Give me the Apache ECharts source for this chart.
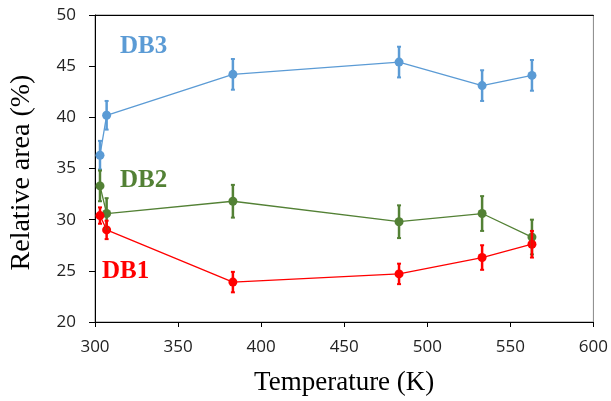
<!DOCTYPE html>
<html><head><meta charset="utf-8">
<script src="https://cdn.jsdelivr.net/npm/echarts@6/dist/echarts.min.js"></script>
<style>html,body{margin:0;padding:0;background:#fff}#c{width:611px;height:401px}</style>
</head><body><div id="c"></div>
<script>
const temps = [303, 307, 383, 483, 533, 563];
const db1 = [30.4, 29.0, 23.9, 24.7, 26.3, 27.6];
const db1Err = [0.8, 0.9, 1.0, 1.0, 1.2, 1.3];
const db2 = [33.3, 30.6, 31.8, 29.8, 30.6, 28.3];
const db2Err = [1.5, 1.5, 1.6, 1.6, 1.7, 1.7];
const db3 = [36.3, 40.2, 44.2, 45.4, 43.1, 44.1];
const db3Err = [1.4, 1.4, 1.5, 1.5, 1.5, 1.5];
const xTicks = [300, 350, 400, 450, 500, 550, 600];
const yTicks = [20, 25, 30, 35, 40, 45, 50];

const colors = {db1: '#FF0000', db2: '#538135', db3: '#5B9BD5'};

function lineSeries(name, vals, color) {
  return {name, type: 'line', data: temps.map((t, i) => [t, vals[i]]),
    symbol: 'circle', symbolSize: 9, itemStyle: {color}, lineStyle: {color, width: 1.3}, z: 3};
}
function errSeries(vals, errs, color) {
  return {type: 'custom', z: 4,
    data: temps.map((t, i) => [t, vals[i] - errs[i], vals[i] + errs[i]]),
    renderItem: function (params, api) {
      const lo = api.coord([api.value(0), api.value(1)]);
      const hi = api.coord([api.value(0), api.value(2)]);
      const w = 2;
      return {type: 'group', children: [
        {type: 'line', shape: {x1: lo[0], y1: lo[1], x2: hi[0], y2: hi[1]}, style: {stroke: color, lineWidth: 2.5}},
        {type: 'line', shape: {x1: lo[0]-w, y1: lo[1], x2: lo[0]+w, y2: lo[1]}, style: {stroke: color, lineWidth: 2}},
        {type: 'line', shape: {x1: hi[0]-w, y1: hi[1], x2: hi[0]+w, y2: hi[1]}, style: {stroke: color, lineWidth: 2}}
      ]};
    }};
}

const chart = echarts.init(document.getElementById('c'), null, {renderer: 'canvas'});
const tickFont = {fontFamily: 'Open Sans', fontSize: 17, color: '#222'};
chart.setOption({
  animation: false,
  grid: {left: 92, right: 17, top: 15, bottom: 78.5, show: true, borderColor: '#888', borderWidth: 1},
  xAxis: [{type: 'value', min: xTicks[0], max: xTicks[xTicks.length-1], interval: 50,
    name: 'Temperature (K)', nameLocation: 'middle', nameGap: 47,
    nameTextStyle: {fontFamily: 'Liberation Serif', fontSize: 27, color: '#000'},
    axisLine: {show: true, lineStyle: {color: '#000', width: 1}},
    axisTick: {show: true, length: 5, lineStyle: {color: '#000'}},
    axisLabel: Object.assign({margin: 17}, tickFont), splitLine: {show: false}},
   {type: 'value', position: 'top', min: 300, max: 600, axisLine: {show: true, lineStyle: {color: '#000'}},
    axisTick: {show: false}, axisLabel: {show: false}, splitLine: {show: false}}],
  yAxis: [{type: 'value', min: yTicks[0], max: yTicks[yTicks.length-1], interval: 5,
    name: 'Relative area (%)', nameLocation: 'middle', nameGap: 59, nameRotate: 90,
    nameTextStyle: {fontFamily: 'Liberation Serif', fontSize: 28, color: '#000', padding: [0, 0, 0, -8]},
    axisLine: {show: true, lineStyle: {color: '#000', width: 1}},
    axisTick: {show: true, length: 6, lineStyle: {color: '#000'}},
    axisLabel: Object.assign({margin: 19}, tickFont), splitLine: {show: false}}],
  series: [
    lineSeries('DB3', db3, colors.db3), errSeries(db3, db3Err, colors.db3),
    lineSeries('DB2', db2, colors.db2), errSeries(db2, db2Err, colors.db2),
    lineSeries('DB1', db1, colors.db1), errSeries(db1, db1Err, colors.db1)
  ],
  graphic: [
    {type: 'text', left: 120, top: 34, style: {text: 'DB3', font: 'bold 25px "Liberation Serif"', fill: colors.db3}},
    {type: 'text', left: 120, top: 168, style: {text: 'DB2', font: 'bold 25px "Liberation Serif"', fill: colors.db2}},
    {type: 'text', left: 102, top: 259, style: {text: 'DB1', font: 'bold 25px "Liberation Serif"', fill: colors.db1}}
  ]
});
</script></body></html>
